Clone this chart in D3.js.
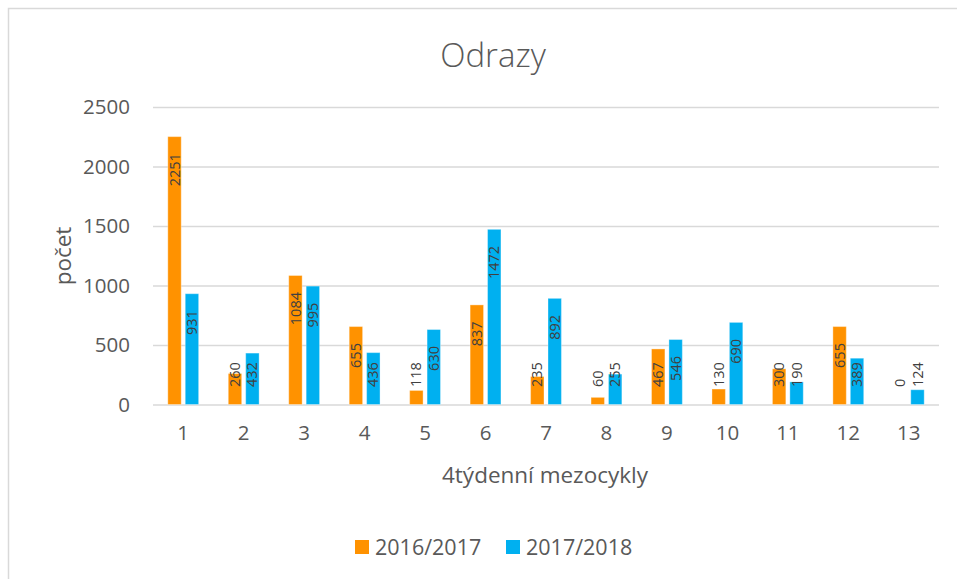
<!DOCTYPE html>
<html>
<head>
<meta charset="utf-8">
<script src="https://cdn.jsdelivr.net/npm/d3@7"></script>
<style>
    body { margin: 0; background: #fff; }
    svg { display: block; font-family: 'Open Sans', sans-serif; }
</style>
</head>
<body>
<svg id="chart" width="957" height="579"></svg>
<script>
const categories = ['1', '2', '3', '4', '5', '6', '7', '8', '9', '10', '11', '12', '13'];
const seriesNames = ['2016/2017', '2017/2018'];
const values2016 = [2251, 260, 1084, 655, 118, 837, 235, 60, 467, 130, 300, 655, 0];
const values2017 = [931, 432, 995, 436, 630, 1472, 892, 255, 546, 690, 190, 389, 124];
const yTicks = [0, 500, 1000, 1500, 2000, 2500];
const colors = ['#FF9200', '#00B0F0'];

const svg = d3.select('#chart');
const textColor = '#595959';

const margin = { top: 107, right: 18, bottom: 174, left: 153 };
const width = 957, height = 579;

const x = d3.scaleBand()
    .domain(categories)
    .range([margin.left, width - margin.right]);

const xInner = d3.scaleBand()
    .domain(seriesNames)
    .range([0, x.step()])
    .paddingInner(0.23)
    .paddingOuter(0.85);

const y = d3.scaleLinear()
    .domain([0, 2500])
    .range([height - margin.bottom - 0.5, margin.top]);

// chart area border
svg.append('rect')
    .attr('x', 8.5)
    .attr('y', 8.5)
    .attr('width', 960)
    .attr('height', 600)
    .attr('fill', 'none')
    .attr('stroke', '#d9d9d9')
    .attr('stroke-width', 1.5);

// title
svg.append('text')
    .attr('x', 493)
    .attr('y', 67)
    .attr('text-anchor', 'middle')
    .attr('font-size', 33)
    .attr('font-weight', 300)
    .attr('fill', textColor)
    .text('Odrazy');

// y axis + gridlines
const yAxis = svg.append('g')
    .attr('transform', `translate(${margin.left},0)`)
    .call(d3.axisLeft(y)
        .tickValues(yTicks)
        .tickFormat(d3.format('d'))
        .tickSize(-(x.range()[1] - margin.left))
        .tickPadding(23));

yAxis.select('.domain').remove();
yAxis.selectAll('.tick line')
    .attr('stroke', '#d9d9d9')
    .attr('stroke-width', 1.5);
yAxis.selectAll('.tick text')
    .attr('font-size', 20.5)
    .attr('fill', textColor)
    .attr('font-family', 'Open Sans');

// x axis labels
const xAxis = svg.append('g')
    .attr('transform', `translate(0,${y(0)})`)
    .call(d3.axisBottom(x).tickSize(0).tickPadding(21));

xAxis.select('.domain').remove();
xAxis.selectAll('.tick text')
    .attr('font-size', 20.5)
    .attr('fill', textColor)
    .attr('font-family', 'Open Sans');

// axis titles
svg.append('text')
    .attr('x', 545)
    .attr('y', 483)
    .attr('text-anchor', 'middle')
    .attr('font-size', 22.5)
    .attr('fill', textColor)
    .text('4týdenní mezocykly');

svg.append('text')
    .attr('transform', 'translate(71,256) rotate(-90)')
    .attr('text-anchor', 'middle')
    .attr('font-size', 22.5)
    .attr('fill', textColor)
    .text('počet');

// bars
const rows = categories.map((c, i) => ({
    category: c,
    values: [
        { series: seriesNames[0], value: values2016[i], color: colors[0] },
        { series: seriesNames[1], value: values2017[i], color: colors[1] }
    ]
}));

const groups = svg.append('g')
    .selectAll('g')
    .data(rows)
    .join('g')
    .attr('transform', d => `translate(${x(d.category)},0)`);

groups.selectAll('rect')
    .data(d => d.values)
    .join('rect')
    .attr('x', d => xInner(d.series))
    .attr('y', d => y(d.value))
    .attr('width', xInner.bandwidth())
    .attr('height', d => y(0) - y(d.value))
    .attr('fill', d => d.color)
    .attr('stroke', 'rgba(255,255,255,0.35)')
    .attr('stroke-width', 1);

// data labels, rotated, inside end (pushed up off the axis when the bar is short)
const labelPad = 16.5;
const bottomLimit = y(0) - 17.5;

groups.selectAll('text.label')
    .data(d => d.values)
    .join('text')
    .attr('class', 'label')
    .attr('font-size', 14.5)
    .attr('fill', '#404040')
    .attr('dy', '0.35em')
    .text(d => d.value)
    .each(function(d) {
        const len = this.getComputedTextLength();
        const cx = xInner(d.series) + xInner.bandwidth() / 2;
        const top = y(d.value) + labelPad;
        if (top + len > bottomLimit) {
            d3.select(this)
                .attr('text-anchor', 'start')
                .attr('transform', `translate(${cx},${bottomLimit}) rotate(-90)`);
        } else {
            d3.select(this)
                .attr('text-anchor', 'end')
                .attr('transform', `translate(${cx},${top}) rotate(-90)`);
        }
    });

// legend
const legend = svg.append('g')
    .attr('transform', 'translate(355,547)');

const legendItems = legend.selectAll('g')
    .data(seriesNames)
    .join('g')
    .attr('transform', (d, i) => `translate(${i * 151},0)`);

legendItems.append('rect')
    .attr('x', 0)
    .attr('y', -7)
    .attr('width', 14)
    .attr('height', 14)
    .attr('fill', (d, i) => colors[i]);

legendItems.append('text')
    .attr('x', 20)
    .attr('y', 0)
    .attr('dy', '0.35em')
    .attr('font-size', 21.5)
    .attr('fill', textColor)
    .text(d => d);
</script>
</body>
</html>
